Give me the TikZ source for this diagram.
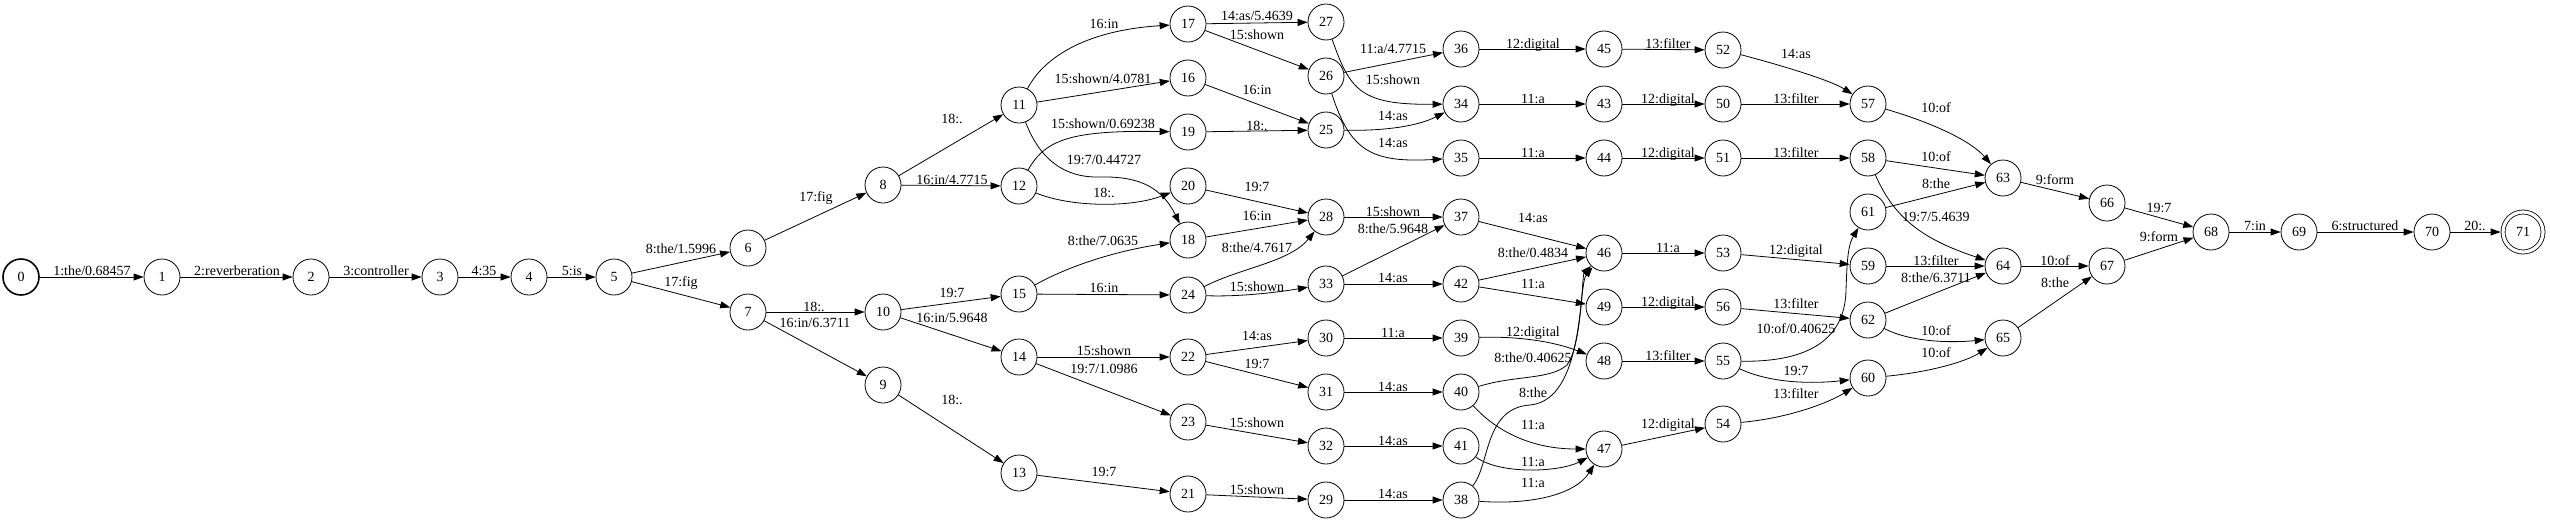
\documentclass[tikz,border=0pt]{standalone}
\usepackage{fontspec}
\setmainfont{Liberation Serif}
\usetikzlibrary{arrows.meta}
\newcommand{\myedge}[4]{\draw[e] (n#1) -- (n#2) node[lbl,at={(#3)}] (l#1x#2) {#4};}
\begin{document}
\begin{tikzpicture}[x=1pt,y=-1pt,
 st/.style={circle,draw,line width=0.8pt,minimum size=36pt,inner sep=0pt,font=\fontsize{14}{16}\selectfont},
 e/.style={line width=0.8pt,-{Triangle[length=10pt,width=7pt]}},
 lbl/.style={anchor=base,yshift=-5pt,inner sep=0pt,font=\fontsize{14}{16}\selectfont}]
\useasboundingbox (0,0) rectangle (2550,531);
% nodes
\node[st,line width=1.6pt] (n0) at (21,277) {0};
\node[st] (n1) at (162,277) {1};
\node[st] (n2) at (311,277) {2};
\node[st] (n3) at (440,277) {3};
\node[st] (n4) at (529,277) {4};
\node[st] (n5) at (614,277) {5};
\node[st] (n6) at (748,248) {6};
\node[st] (n7) at (748,312) {7};
\node[st] (n8) at (883,185) {8};
\node[st] (n9) at (883,385) {9};
\node[st] (n10) at (883,312) {10};
\node[st] (n11) at (1019,105) {11};
\node[st] (n12) at (1019,186) {12};
\node[st] (n13) at (1019,473) {13};
\node[st] (n14) at (1019,357) {14};
\node[st] (n15) at (1019,294) {15};
\node[st] (n16) at (1188,78) {16};
\node[st] (n17) at (1188,24) {17};
\node[st] (n18) at (1188,240) {18};
\node[st] (n19) at (1188,132) {19};
\node[st] (n20) at (1188,186) {20};
\node[st] (n21) at (1188,494) {21};
\node[st] (n22) at (1188,357) {22};
\node[st] (n23) at (1188,422) {23};
\node[st] (n24) at (1188,295) {24};
\node[st] (n25) at (1326,130) {25};
\node[st] (n26) at (1326,76) {26};
\node[st] (n27) at (1326,22) {27};
\node[st] (n28) at (1326,217) {28};
\node[st] (n29) at (1326,500) {29};
\node[st] (n30) at (1326,338) {30};
\node[st] (n31) at (1326,392) {31};
\node[st] (n32) at (1326,446) {32};
\node[st] (n33) at (1326,284) {33};
\node[st] (n34) at (1461,104) {34};
\node[st] (n35) at (1461,158) {35};
\node[st] (n36) at (1461,49) {36};
\node[st] (n37) at (1461,217) {37};
\node[st] (n38) at (1461,500) {38};
\node[st] (n39) at (1461,338) {39};
\node[st] (n40) at (1461,392) {40};
\node[st] (n41) at (1461,446) {41};
\node[st] (n42) at (1461,284) {42};
\node[st] (n43) at (1604,104) {43};
\node[st] (n44) at (1604,158) {44};
\node[st] (n45) at (1604,49) {45};
\node[st] (n46) at (1604,253) {46};
\node[st] (n47) at (1604,449) {47};
\node[st] (n48) at (1604,361) {48};
\node[st] (n49) at (1604,307) {49};
\node[st] (n50) at (1723,104) {50};
\node[st] (n51) at (1723,158) {51};
\node[st] (n52) at (1723,50) {52};
\node[st] (n53) at (1723,253) {53};
\node[st] (n54) at (1723,424) {54};
\node[st] (n55) at (1723,361) {55};
\node[st] (n56) at (1723,307) {56};
\node[st] (n57) at (1868,104) {57};
\node[st] (n58) at (1868,158) {58};
\node[st] (n59) at (1868,266) {59};
\node[st] (n60) at (1868,378) {60};
\node[st] (n61) at (1868,212) {61};
\node[st] (n62) at (1868,320) {62};
\node[st] (n63) at (2003,178) {63};
\node[st] (n64) at (2003,266) {64};
\node[st] (n65) at (2003,338) {65};
\node[st] (n66) at (2107,203) {66};
\node[st] (n67) at (2107,266) {67};
\node[st] (n68) at (2211,232) {68};
\node[st] (n69) at (2299,232) {69};
\node[st] (n70) at (2432,232) {70};
\node[st,double,double distance=3.2pt,minimum size=40pt,outer sep=2.4pt] (n71) at (2523,232) {71};
% straight edges
\myedge{0}{1}{92,270}{1:the/0.68457}
\myedge{1}{2}{237,270}{2:reverberation}
\myedge{2}{3}{376,270}{3:controller}
\myedge{3}{4}{484,270}{4:35}
\myedge{4}{5}{572,270}{5:is}
\myedge{5}{6}{681,248}{8:the/1.5996}
\myedge{5}{7}{681,281}{17:fig}
\myedge{6}{8}{816,196}{17:fig}
\myedge{7}{10}{814,306}{18:.}
\myedge{7}{9}{815,322}{16:in/6.3711}
\myedge{8}{11}{952,118}{18:.}
\myedge{8}{12}{952,179}{16:in/4.7715}
\myedge{10}{15}{952,292}{19:7}
\myedge{10}{14}{952,317}{16:in/5.9648}
\myedge{9}{13}{952,399}{18:.}
\myedge{11}{16}{1103,78}{15:shown/4.0781}
\myedge{15}{24}{1104,287}{16:in}
\myedge{14}{22}{1104,350}{15:shown}
\myedge{14}{23}{1104,368}{19:7/1.0986}
\myedge{13}{21}{1104,471}{19:7}
\myedge{17}{27}{1257,15}{14:as/5.4639}
\myedge{17}{26}{1257,34}{15:shown}
\myedge{16}{25}{1257,89}{16:in}
\myedge{19}{25}{1257,125}{18:.}
\myedge{20}{28}{1257,186}{19:7}
\myedge{18}{28}{1257,215}{16:in}
\myedge{22}{30}{1257,335}{14:as}
\myedge{22}{31}{1257,363}{19:7}
\myedge{23}{32}{1257,422}{15:shown}
\myedge{21}{29}{1257,489}{15:shown}
\myedge{26}{36}{1393,48}{11:a/4.7715}
\myedge{28}{37}{1393,211}{15:shown}
\myedge{33}{37}{1393,228}{8:the/5.9648}
\myedge{33}{42}{1393,277}{14:as}
\myedge{30}{39}{1393,332}{11:a}
\myedge{31}{40}{1393,386}{14:as}
\myedge{32}{41}{1393,440}{14:as}
\myedge{29}{38}{1393,493}{14:as}
\myedge{36}{45}{1533,43}{12:digital}
\myedge{34}{43}{1533,98}{11:a}
\myedge{35}{44}{1533,152}{11:a}
\myedge{37}{46}{1533,217}{14:as}
\myedge{42}{46}{1533,252}{8:the/0.4834}
\myedge{42}{49}{1533,283}{11:a}
\myedge{45}{52}{1668,43}{13:filter}
\myedge{43}{50}{1668,98}{12:digital}
\myedge{44}{51}{1668,152}{12:digital}
\myedge{46}{53}{1668,247}{11:a}
\myedge{49}{56}{1668,301}{12:digital}
\myedge{48}{55}{1668,355}{13:filter}
\myedge{47}{54}{1668,423}{12:digital}
\myedge{50}{57}{1796,98}{13:filter}
\myedge{51}{58}{1796,152}{13:filter}
\myedge{53}{59}{1796,249}{12:digital}
\myedge{56}{62}{1796,303}{13:filter}
\myedge{58}{63}{1936,156}{10:of}
\myedge{61}{63}{1936,183}{8:the}
\myedge{59}{64}{1936,260}{13:filter}
\myedge{62}{64}{1936,277}{8:the/6.3711}
\myedge{63}{66}{2055,179}{9:form}
\myedge{64}{67}{2055,260}{10:of}
\myedge{65}{67}{2055,282}{8:the}
\myedge{66}{68}{2159,207}{19:7}
\myedge{67}{68}{2159,236}{9:form}
\myedge{68}{69}{2255,225}{7:in}
\myedge{69}{70}{2365,225}{6:structured}
\myedge{70}{71}{2475,225}{20:.}
% curved edges
\draw[e] (n11) .. controls (1045,55) and (1090,30) .. (n17) node[lbl,at={(1104,23)}] (l11x17) {16:in};
\draw[e] (n12) .. controls (1045,140) and (1070,130) .. (n19) node[lbl,at={(1103,123)}] (l12x19) {15:shown/0.69238};
\draw[e] (n11) .. controls (1040,160) and (1065,178) .. (1100,177) .. controls (1140,176) and (1162,188) .. (n18) node[lbl,at={(1104,159)}] (l11x18) {19:7/0.44727};
\draw[e] (n12) .. controls (1070,207) and (1130,208) .. (n20) node[lbl,at={(1104,192)}] (l12x20) {18:.};
\draw[e] (n15) .. controls (1065,268) and (1110,252) .. (n18) node[lbl,at={(1103,240)}] (l15x18) {8:the/7.0635};
\draw[e] (n24) .. controls (1240,268) and (1290,262) .. (n28) node[lbl,at={(1257,247)}] (l24x28) {8:the/4.7617};
\draw[e] (n24) .. controls (1240,297) and (1280,292) .. (n33) node[lbl,at={(1257,286)}] (l24x33) {15:shown};
\draw[e] (n27) .. controls (1350,90) and (1360,105) .. (n34) node[lbl,at={(1393,79)}] (l27x34) {15:shown};
\draw[e] (n25) .. controls (1390,131) and (1420,125) .. (n34) node[lbl,at={(1393,115)}] (l25x34) {14:as};
\draw[e] (n26) .. controls (1350,150) and (1370,163) .. (n35) node[lbl,at={(1393,142)}] (l26x35) {14:as};
\draw[e] (n39) .. controls (1520,336) and (1555,342) .. (n48) node[lbl,at={(1533,331)}] (l39x48) {12:digital};
\draw[e] (n40) .. controls (1515,375) and (1550,380) .. (1567,365) .. controls (1582,345) and (1582,275) .. (n46) node[lbl,at={(1533,357)}] (l40x46) {8:the/0.40625};
\draw[e] (n38) .. controls (1490,465) and (1484,408) .. (1530,405) .. controls (1585,400) and (1578,285) .. (n46) node[lbl,at={(1533,392)}] (l38x46) {8:the};
\draw[e] (n40) .. controls (1495,430) and (1530,449) .. (n47) node[lbl,at={(1533,424)}] (l40x47) {11:a};
\draw[e] (n41) .. controls (1500,475) and (1560,472) .. (n47) node[lbl,at={(1533,461)}] (l41x47) {11:a};
\draw[e] (n38) .. controls (1530,505) and (1575,495) .. (n47) node[lbl,at={(1533,482)}] (l38x47) {11:a};
\draw[e] (n52) .. controls (1780,65) and (1830,80) .. (n57) node[lbl,at={(1796,53)}] (l52x57) {14:as};
\draw[e] (n55) .. controls (1800,362) and (1845,345) .. (1846,290) .. controls (1847,260) and (1848,245) .. (n61) node[lbl,at={(1796,328)}] (l55x61) {10:of/0.40625};
\draw[e] (n55) .. controls (1770,383) and (1810,384) .. (n60) node[lbl,at={(1796,370)}] (l55x60) {19:7};
\draw[e] (n54) .. controls (1790,418) and (1830,402) .. (n60) node[lbl,at={(1796,393)}] (l54x60) {13:filter};
\draw[e] (n57) .. controls (1930,122) and (1970,140) .. (n63) node[lbl,at={(1936,107)}] (l57x63) {10:of};
\draw[e] (n58) .. controls (1895,220) and (1925,240) .. (n64) node[lbl,at={(1936,216)}] (l58x64) {19:7/5.4639};
\draw[e] (n62) .. controls (1910,342) and (1950,343) .. (n65) node[lbl,at={(1936,330)}] (l62x65) {10:of};
\draw[e] (n60) .. controls (1930,372) and (1965,362) .. (n65) node[lbl,at={(1936,352)}] (l60x65) {10:of};
\end{tikzpicture}
\end{document}
